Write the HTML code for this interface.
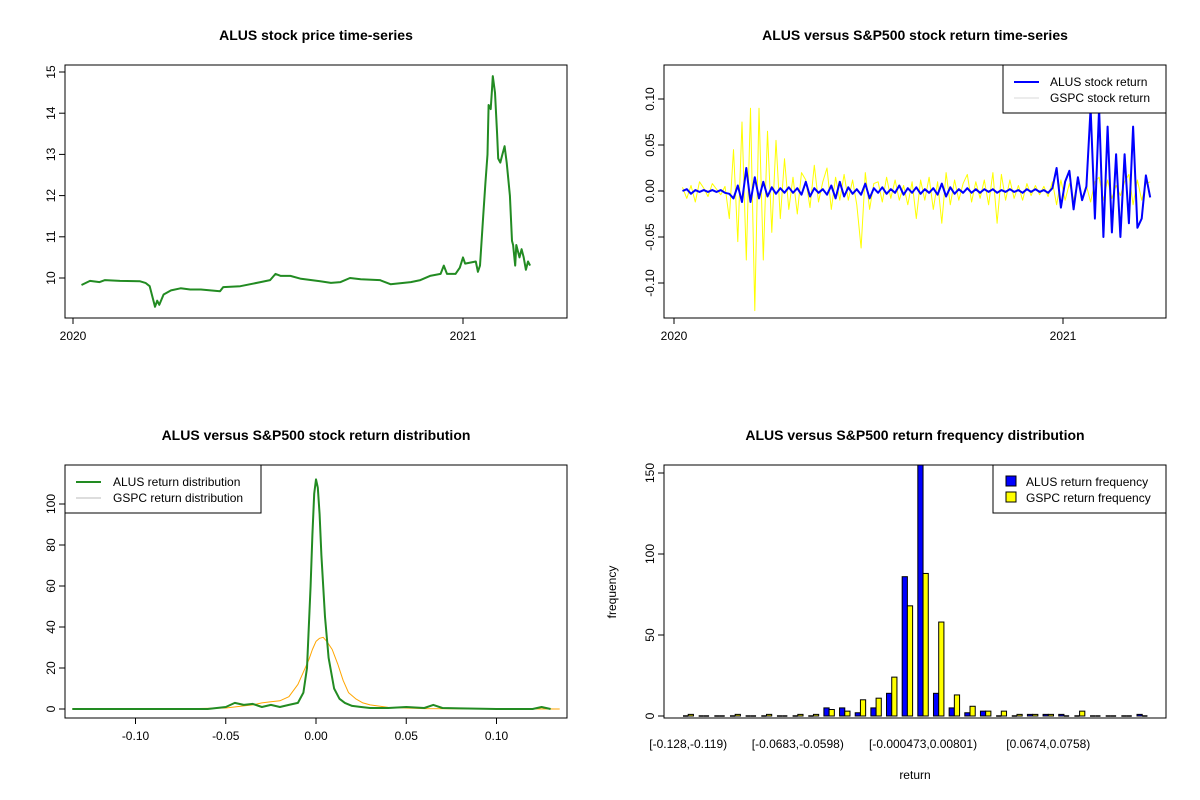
<!DOCTYPE html>
<html><head><meta charset="utf-8"><style>
body{margin:0;background:#fff}
svg{display:block;font-family:"Liberation Sans",Arial,sans-serif}
</style></head><body>
<svg id="s" width="1200" height="800" viewBox="0 0 1200 800"></svg>
<script>
// ---- Panel 1: price
const priceDays=[8,16,25,30,44,63,68,72,75,77,79,81,85,92,101,110,120,138,141,157,176,185,190,195,204,214,232,242,251,260,270,288,298,317,326,335,345,348,351,359,363,366,368,378,380,382,385,387,389,390,392,393,394,396,398,399,401,403,405,407,410,412,413,415,416,419,421,423,425,427,429];
const priceVals=[9.83,9.93,9.9,9.95,9.93,9.92,9.88,9.8,9.5,9.3,9.45,9.35,9.6,9.7,9.75,9.72,9.72,9.68,9.78,9.8,9.9,9.95,10.1,10.05,10.05,9.98,9.92,9.88,9.9,10.0,9.97,9.95,9.85,9.9,9.95,10.05,10.1,10.3,10.1,10.1,10.25,10.5,10.35,10.4,10.15,10.3,11.5,12.3,13.0,14.2,14.1,14.5,14.9,14.5,13.5,12.9,12.8,13.0,13.2,12.8,12.0,10.9,10.8,10.3,10.8,10.5,10.7,10.5,10.2,10.4,10.3];
const priceTicks=[10,11,12,13,14,15];
// ---- Panel 2: returns (every 4 days from day 8)
const gspcRet=[.004,-.008,.006,-.012,.010,.003,-.006,.008,.002,-.004,.005,
-.03,.045,-.055,.075,-.075,.09,-.13,.09,-.075,.065,-.045,.055,-.03,.035,
-.02,.015,-.025,.02,.012,-.018,.028,-.012,.01,.025,-.02,.015,-.01,.018,-.01,.012,-.015,-.062,.02,-.02,.008,
.01,-.012,.015,-.008,.012,-.01,.006,-.015,.01,-.03,.012,-.01,.015,-.02,.01,-.035,.02,-.015,.012,-.01,.008,.018,-.012,.01,-.008,
.012,-.015,.02,-.035,.018,-.01,.012,-.008,.006,-.01,.008,-.005,.006,-.004,.005,-.006,.01,-.015,.012,-.01,
.008,-.01,.012,-.008,.006,-.012,.01,.015,-.01,.012,-.008,.006,-.005,.01,.018,-.015,.012,-.01,.008,.01];
const alusRet=[0,.002,-.003,.001,-.001,.001,-.001,.001,-.001,.001,-.002,
-.003,-.008,.006,-.012,.025,-.012,.015,-.008,.01,-.006,.004,-.003,.003,-.002,
.004,-.002,.003,-.004,.01,-.006,.003,-.002,.002,-.004,.006,-.008,.01,-.006,.004,-.003,.002,-.004,.008,-.008,.003,
-.002,.004,-.003,.002,-.002,.006,-.004,.003,-.002,.004,-.003,.002,-.002,.003,-.004,.008,-.006,.004,-.003,.002,-.002,.003,-.002,.002,-.002,
.002,-.001,.002,-.002,.001,-.001,.002,-.001,.001,-.002,.002,-.001,.002,-.001,.001,-.002,.003,.025,-.018,.01,
.022,-.02,.015,-.01,.005,.09,-.03,.09,-.05,.07,-.045,.04,-.05,.04,-.035,.07,-.04,-.03,.017,-.007];
const retTicks=[-0.10,-0.05,0.00,0.05,0.10];
// ---- Panel 3: densities
const alusDx=[-.135,-.1,-.06,-.05,-.045,-.04,-.035,-.03,-.025,-.02,-.015,-.01,-.007,-.005,-.003,-.002,-.001,0,.001,.002,.003,.005,.007,.01,.013,.016,.02,.025,.03,.04,.05,.06,.065,.07,.08,.1,.12,.125,.13];
const alusDy=[0,0,0,1,3,2,2.5,1,2,1,2,3,8,20,60,85,105,112,108,95,75,45,25,10,5,3,1.5,1,.5,.5,1,.5,2,.5,.3,0,0,1,0];
const gspcDx=[-.135,-.08,-.05,-.04,-.035,-.03,-.025,-.02,-.015,-.01,-.007,-.004,-.002,0,.002,.004,.006,.009,.012,.015,.018,.022,.026,.03,.04,.06,.135];
const gspcDy=[0,0,.5,1.5,2,3,3.5,4,6,12,18,24,29,33,34.5,35,33,29,22,14,8,5,3,2,.8,.2,0];
const densXTicks=[-0.10,-0.05,0.00,0.05,0.10];
const densYTicks=[0,20,40,60,80,100];
// ---- Panel 4: histogram
const binLabels=["[-0.128,-0.119)","","","","","","","[-0.0683,-0.0598)","","","","","","","","[-0.000473,0.00801)","","","","","","","","[0.0674,0.0758)","","","","","",""];
const alusFreq=[0,0,0,0,0,0,0,0,0,5,5,2,5,14,86,155,14,5,2,3,0,0,1,1,1,0,0,0,0,1];
const gspcFreq=[1,0,0,1,0,1,0,1,1,4,3,10,11,24,68,88,58,13,6,3,3,1,1,1,0,3,0,0,0,0];
const freqTicks=[0,50,100,150];

const NS="http://www.w3.org/2000/svg";
const svg=document.getElementById('s');
function mk(tag,attrs,parent){const e=document.createElementNS(NS,tag);for(const k in attrs)e.setAttribute(k,attrs[k]);(parent||svg).appendChild(e);return e;}
function txt(x,y,s,size,anchor,rot,bold,parent){const t=mk('text',{x:x,y:y,'font-size':size,'text-anchor':anchor||'middle',fill:'#000'},parent);if(bold)t.setAttribute('font-weight','bold');if(rot)t.setAttribute('transform','rotate(-90 '+x+' '+y+')');t.textContent=s;return t;}
function frame(x0,y0,x1,y1,name){const r=mk('rect',{x:x0,y:y0,width:x1-x0,height:y1-y0,fill:'none',stroke:'#000','stroke-width':1});

return r;}
function linePath(xs,ys,fx,fy,color,w,name){let d='';for(let i=0;i<Math.min(xs.length,ys.length);i++){d+=(i?'L':'M')+fx(xs[i]).toFixed(1)+','+fy(ys[i]).toFixed(1);}
const p=mk('path',{d:d,fill:'none',stroke:color,'stroke-width':w,'stroke-linejoin':'round'});

return p;}
function yAxis(x,ticks,fy,fmt,name){const g=mk('g',{});


mk('line',{x1:x,x2:x,y1:fy(ticks[0]),y2:fy(ticks[ticks.length-1]),stroke:'#000'},g);
ticks.forEach(v=>{const y=fy(v);mk('line',{x1:x-6,x2:x,y1:y,y2:y,stroke:'#000'},g);txt(x-10,y,fmt(v),12,'middle',true,false,g);});}
function xAxis(y,ticks,fx,fmt,name){const g=mk('g',{});


mk('line',{x1:fx(ticks[0]),x2:fx(ticks[ticks.length-1]),y1:y,y2:y,stroke:'#000'},g);
ticks.forEach(v=>{const x=fx(v);mk('line',{x1:x,x2:x,y1:y,y2:y+6,stroke:'#000'},g);txt(x,y+22,fmt(v),12,'middle',false,false,g);});}

// Panel 1
(function(){
const fx=d=>73+d/366*390, fy=v=>278-(v-10)*41.2;
let t=txt(316,40,'ALUS stock price time-series',14,'middle',false,true);


frame(65,65,567,318,'price-plot-frame');
yAxis(65,priceTicks,fy,v=>String(v),'price-y-axis');
xAxis(318,[0,366],fx,v=>v?'2021':'2020','price-x-axis');
linePath(priceDays,priceVals,fx,fy,'#228b22',2,'alus-price-line');
})();

// Panel 2
(function(){
const fx=d=>674+d/366*389, fy=v=>191-v*920;
let t=txt(915,40,'ALUS versus S&P500 stock return time-series',14,'middle',false,true);


frame(664,65,1166,318,'return-plot-frame');
yAxis(664,retTicks,fy,v=>v.toFixed(2),'return-y-axis');
xAxis(318,[0,366],fx,v=>v?'2021':'2020','return-x-axis');
const days=gspcRet.map((_,i)=>8+i*4);
linePath(days,gspcRet,fx,fy,'#ffff00',1,'gspc-return-line');
linePath(alusRet.map((_,i)=>8+i*4),alusRet,fx,fy,'#0000ff',2,'alus-return-line');
const lg=mk('g',{});


mk('rect',{x:1003,y:65,width:163,height:48,fill:'#fff',stroke:'#000'},lg);
mk('line',{x1:1014,x2:1039,y1:82,y2:82,stroke:'#0000ff','stroke-width':2},lg);
mk('line',{x1:1014,x2:1039,y1:98,y2:98,stroke:'#d8d8d8','stroke-width':1},lg);
txt(1050,86,'ALUS stock return',12,'start',false,false,lg);
txt(1050,102,'GSPC stock return',12,'start',false,false,lg);
})();

// Panel 3
(function(){
const fx=v=>316+v*1805, fy=v=>709-v*2.05;
let t=txt(316,440,'ALUS versus S&P500 stock return distribution',14,'middle',false,true);


frame(65,465,567,718,'density-plot-frame');
yAxis(65,densYTicks,fy,v=>String(v),'density-y-axis');
xAxis(718,densXTicks,fx,v=>v.toFixed(2),'density-x-axis');
linePath(gspcDx,gspcDy,fx,fy,'#ffa500',1,'gspc-density-line');
linePath(alusDx,alusDy,fx,fy,'#228b22',2,'alus-density-line');
const lg=mk('g',{});


mk('rect',{x:65,y:465,width:196,height:48,fill:'#fff',stroke:'#000'},lg);
mk('line',{x1:76,x2:101,y1:482,y2:482,stroke:'#228b22','stroke-width':2},lg);
mk('line',{x1:76,x2:101,y1:498,y2:498,stroke:'#bbbbbb','stroke-width':1},lg);
txt(113,486,'ALUS return distribution',12,'start',false,false,lg);
txt(113,502,'GSPC return distribution',12,'start',false,false,lg);
})();

// Panel 4
(function(){
const unit=454/29/3, gx=i=>683+i*454/29, fy=v=>716-v*1.62;
let t=txt(915,440,'ALUS versus S&P500 return frequency distribution',14,'middle',false,true);


yAxis(664,freqTicks,fy,v=>String(v),'frequency-y-axis');
const cp=mk('clipPath',{id:'c4'});mk('rect',{x:664,y:465,width:502,height:253},cp);
const bars=mk('g',{'clip-path':'url(#c4)'});


function bar(x,v,color,name){
  if(v===0){const l=mk('line',{x1:x,x2:x+unit,y1:fy(0),y2:fy(0),stroke:'#000','stroke-width':1.5},bars);
  
  return;}
  const r=mk('rect',{x:x,y:fy(v),width:unit,height:fy(0)-fy(v),fill:color,stroke:'#000','stroke-width':1},bars);
  
  }
alusFreq.forEach((v,i)=>bar(gx(i),v,'#0000ff','alus-bar'));
gspcFreq.forEach((v,i)=>bar(gx(i)+unit,v,'#ffff00','gspc-bar'));
frame(664,465,1166,718,'histogram-frame');
binLabels.forEach((s,i)=>{if(s){const l=txt(gx(i)+unit,748,s,12,'middle');

}});
let xl=txt(915,779,'return',12,'middle');


let yl=txt(616,592,'frequency',12,'middle',true);


const lg=mk('g',{});


mk('rect',{x:993,y:465,width:173,height:48,fill:'#fff',stroke:'#000'},lg);
mk('rect',{x:1006,y:476,width:10,height:10,fill:'#0000ff',stroke:'#000'},lg);
mk('rect',{x:1006,y:492,width:10,height:10,fill:'#ffff00',stroke:'#000'},lg);
txt(1026,486,'ALUS return frequency',12,'start',false,false,lg);
txt(1026,502,'GSPC return frequency',12,'start',false,false,lg);
})();
</script>
</body></html>
